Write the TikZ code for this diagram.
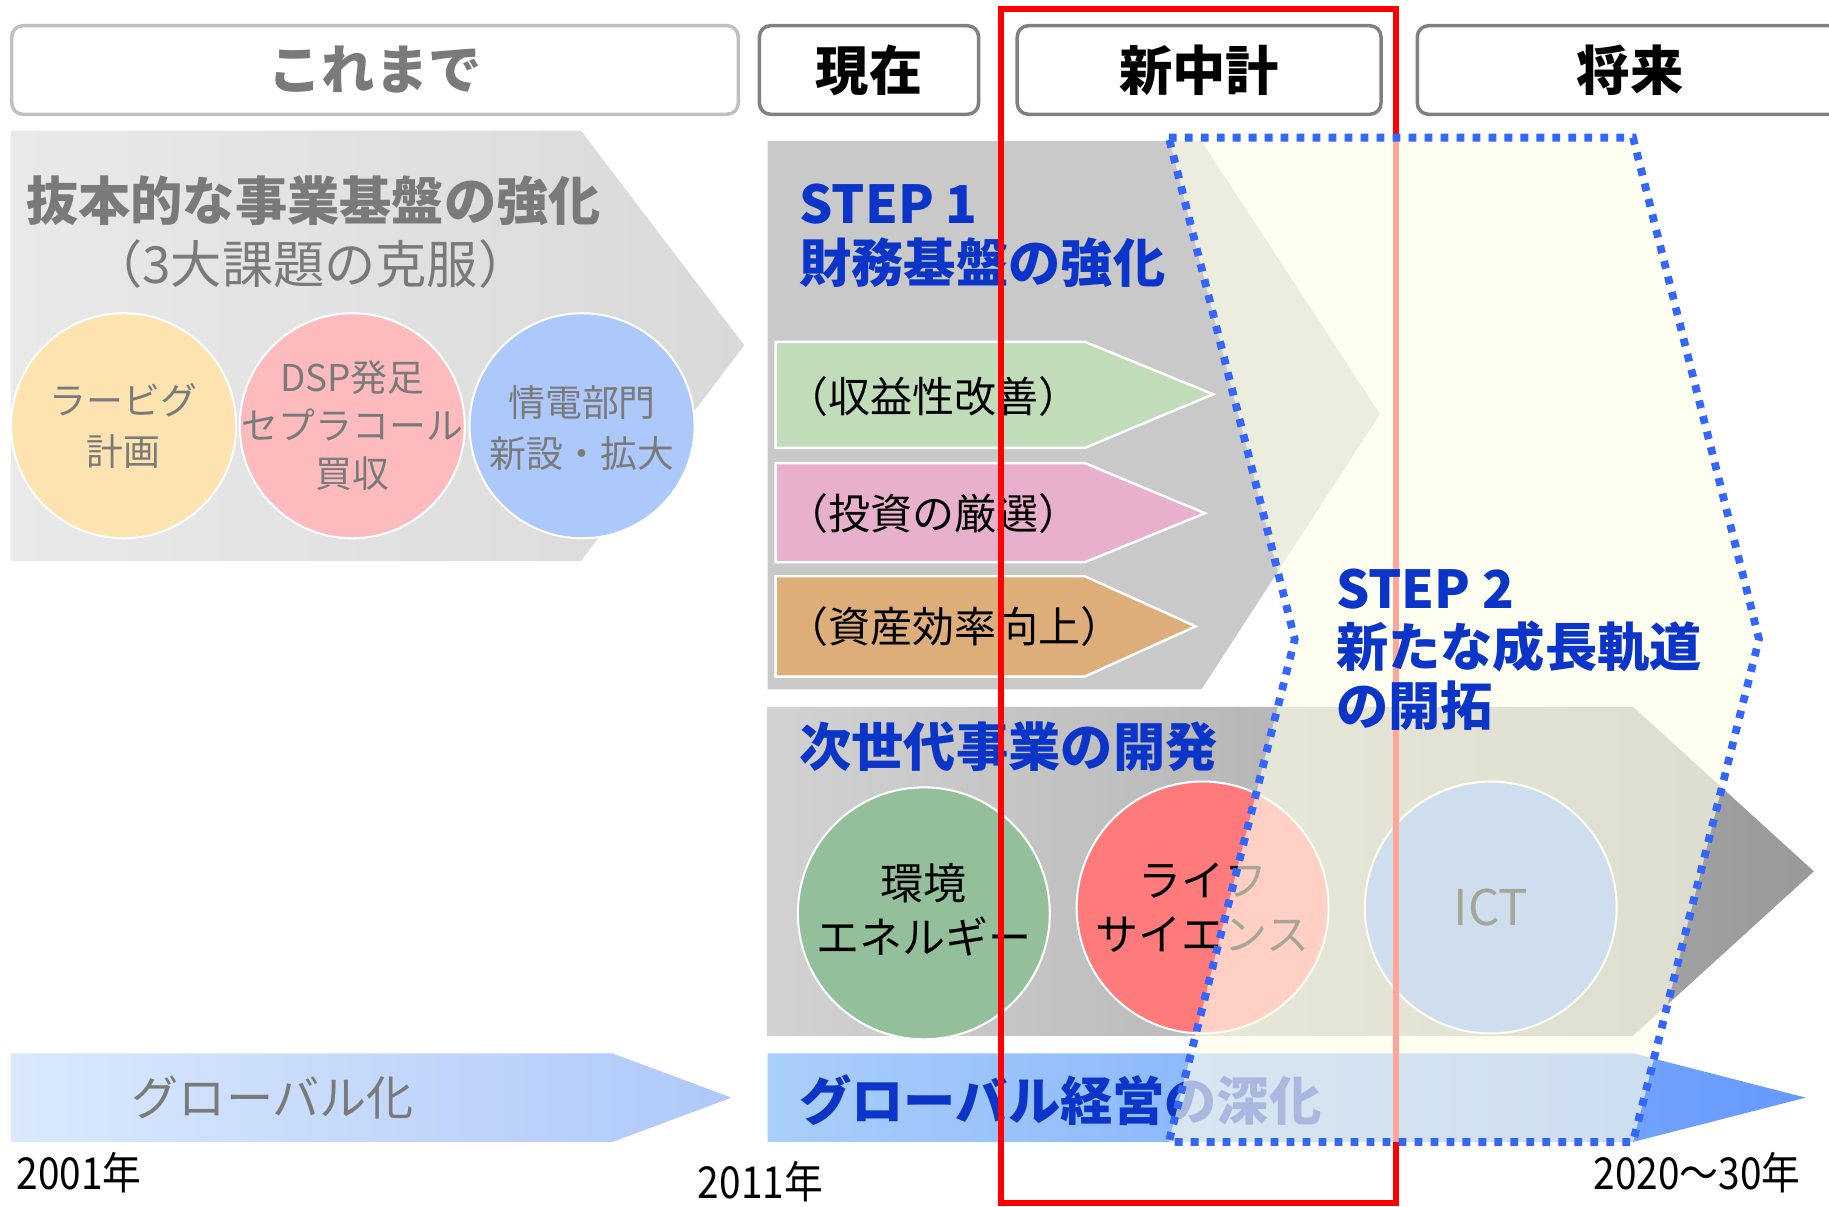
\documentclass[tikz,border=0pt]{standalone}
\usepackage{fontspec}
\setmainfont{Noto Sans CJK JP}
\usepackage{graphicx}
\usetikzlibrary{shapes.geometric}
\definecolor{stepblue}{HTML}{0A35C8}
\definecolor{dotblue}{HTML}{3366FF}
\definecolor{ovl}{HTML}{FFFFEB}
\definecolor{txtgray}{HTML}{7A7A7A}
\definecolor{hdrlight}{HTML}{C0C0C0}
\definecolor{hdrdark}{HTML}{808080}
\definecolor{cOrange}{HTML}{FDE3B0}
\definecolor{cPink}{HTML}{FDBBBE}
\definecolor{cBlue}{HTML}{ADC8FA}
\definecolor{aGreen}{HTML}{C0DCB8}
\definecolor{aPink}{HTML}{E8B0CC}
\definecolor{aOrange}{HTML}{DEAE7A}
\definecolor{cGreen}{HTML}{93BF9B}
\definecolor{cRed}{HTML}{FF7B7B}
\definecolor{cIct}{HTML}{76A3F9}
\definecolor{pastL}{HTML}{E9E9E9}
\definecolor{pastR}{HTML}{D9D9D9}
\definecolor{stepgray}{HTML}{C9C9C9}
\definecolor{nextL}{HTML}{D2D2D2}
\definecolor{nextR}{HTML}{999999}
\definecolor{globL}{HTML}{DAE9FC}
\definecolor{globR}{HTML}{AEC8FA}
\definecolor{glob2L}{HTML}{A9CFFA}
\definecolor{glob2R}{HTML}{6699FF}

\tikzset{
 hdr/.style={draw=#1, line width=1.7pt, rounded corners=5.5pt, fill=white, inner sep=0pt, font=\bfseries\fontsize{26}{30}\selectfont},
 bubble/.style={circle, draw=white, line width=1pt, fill=#1, inner sep=0pt},
 bubtext/.style={inner sep=0pt, align=center},
 subarrow/.style={draw=white, line width=1.2pt, fill=#1},
 bluehead/.style={anchor=west, text=stepblue, font=\bfseries\fontsize{25.5}{28.5}\selectfont, inner sep=0pt, align=left},
 subtext/.style={anchor=west, inner sep=0pt, font=\fontsize{20.5}{24}\selectfont},
 yearlbl/.style={anchor=west, inner sep=0pt, font=\fontsize{21.5}{24}\selectfont},
}

\begin{document}
\begin{tikzpicture}[x=0.02cm,y=-0.02cm]
\useasboundingbox (0,0) rectangle (1568,1034);
\fill[white] (0,0) rectangle (1568,1034);

% header boxes
\node[hdr=hdrlight, text=txtgray, minimum width=12.46cm, minimum height=1.52cm] (hPast) at (321.5,60) {これまで};
\node[hdr=hdrdark, minimum width=3.76cm, minimum height=1.52cm] (hNow) at (745,60) {現在};
\node[hdr=hdrdark, minimum width=6.24cm, minimum height=1.52cm] (hPlan) at (1028,60) {新中計};
\node[hdr=hdrdark, minimum width=7.3cm, minimum height=1.52cm] (hFut) at (1397.5,60) {将来};

% past arrow
\shade[left color=pastL, right color=pastR] (10,112) -- (498,112) -- (638,296) -- (498,481) -- (10,481) -- cycle;
\node[anchor=west, text=txtgray, font=\bfseries\fontsize{25.5}{30}\selectfont, inner sep=0pt] (tPast) at (22,172) {抜本的な事業基盤の強化};
\node[text=txtgray, font=\fontsize{25}{28}\selectfont, inner sep=0pt] (tPastSub) at (266,226) {（3大課題の克服）};
\node[bubble=cOrange, minimum size=3.86cm] (cRabigh) at (106,365) {};
\node[bubble=cPink, minimum size=3.86cm] (cDsp) at (302,365) {};
\node[bubble=cBlue, minimum size=3.86cm] (cInfo) at (499,365) {};
\node[bubtext, text=txtgray, font=\fontsize{18}{25}\selectfont] (tRabigh) at (cRabigh) {ラービグ\\計画};
\node[bubtext, text=txtgray, font=\fontsize{18}{23.5}\selectfont] (tDsp) at (cDsp) {DSP発足\\セプラコール\\買収};
\node[bubtext, text=txtgray, font=\fontsize{18}{25}\selectfont] (tInfo) at ([yshift=-1]cInfo) {情電部門\\新設・拡大};

% STEP 1 arrow
\fill[stepgray] (658,121) -- (1030,121) -- (1183,355) -- (1030,591) -- (658,591) -- cycle;
\node[bluehead] (tStep1) at (685,202) {STEP 1\\財務基盤の強化};
\fill[subarrow=aGreen] (665,293) -- (930,293) -- (1040,338) -- (930,384) -- (665,384) -- cycle;
\fill[subarrow=aPink] (665,397) -- (930,397) -- (1033,440) -- (930,482) -- (665,482) -- cycle;
\fill[subarrow=aOrange] (665,494) -- (930,494) -- (1025,537) -- (930,580) -- (665,580) -- cycle;
\node[subtext] (tProfit) at (674,340) {（収益性改善）};
\node[subtext] (tInvest) at (674,440) {（投資の厳選）};
\node[subtext] (tAsset) at (674,537) {（資産効率向上）};

% next-generation arrow
\shade[left color=nextL, right color=nextR] (658,606) -- (1400,606) -- (1555,747) -- (1400,888) -- (658,888) -- cycle;
\node[bluehead] (tNext) at (685,640) {次世代事業の開発};
\node[bubble=cGreen, minimum size=4.32cm] (cEnv) at (792,783) {};
\node[bubble=cRed, minimum size=4.32cm] (cLife) at (1031,778) {};
\node[bubble=cIct, minimum size=4.32cm] (cIctN) at (1278,778) {};
\node[bubtext, font=\fontsize{21}{26}\selectfont] (tEnv) at ([yshift=1.7pt]cEnv) {環境\\エネルギー};
\node[bubtext, font=\fontsize{21}{26}\selectfont] (tLife) at (cLife) {ライフ\\サイエンス};
\node[bubtext, font=\fontsize{24}{28}\selectfont] (tIct) at (cIctN) {ICT};

% globalization arrows
\shade[left color=globL, right color=globR] (10,903) -- (525,903) -- (627,941) -- (525,979) -- (10,979) -- cycle;
\node[text=txtgray, font=\fontsize{23}{26}\selectfont, inner sep=0pt] (tGlob) at (234,941) {グローバル化};
\shade[left color=glob2L, right color=glob2R] (658,903) -- (1400,903) -- (1548,941) -- (1400,979) -- (658,979) -- cycle;
\node[bluehead] (tGlob2) at (685,943) {グローバル経営の深化};

% red frame (mid-term plan)
\draw[red, line width=3pt] (858,8) rectangle (1197,1031);

% STEP 2 overlay
\draw[draw=dotblue, line width=3.8pt, dash pattern=on 3.8pt off 4pt, fill=ovl, fill opacity=0.65] (1002,118) -- (1400,118) -- (1508,548) -- (1400,979) -- (1002,979) -- (1110,548) -- cycle;
\node[bluehead] (tStep2) at (1145,557) {STEP 2\\新たな成長軌道\\の開拓};

% years
\node[yearlbl] (y2001) at (14,1005) {\scalebox{0.88}[1]{2001年}};
\node[yearlbl] (y2011) at (598,1013) {\scalebox{0.88}[1]{2011年}};
\node[yearlbl] (y2020) at (1366,1005) {\scalebox{0.88}[1]{2020～30年}};
\end{tikzpicture}
\end{document}
